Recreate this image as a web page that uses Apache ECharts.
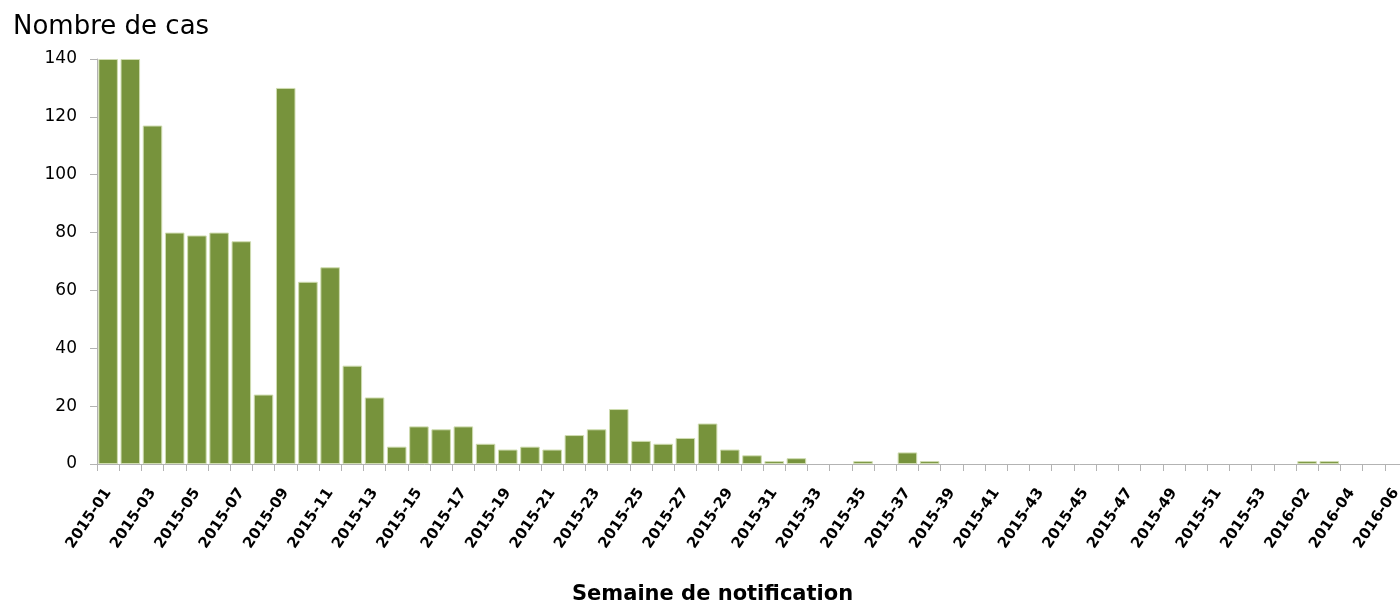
<!DOCTYPE html>
<html>
<head>
<meta charset="utf-8">
<script src="https://cdn.jsdelivr.net/npm/echarts@6/dist/echarts.min.js"></script>
<style>
html,body{margin:0;padding:0;background:#fff;overflow:hidden;width:1400px;height:603px;}
#chart{width:1407px;height:603px;}
</style>
</head>
<body>
<div id="chart"></div>
<script>
const weeks2015 = ["2015-01","2015-02","2015-03","2015-04","2015-05","2015-06","2015-07","2015-08","2015-09","2015-10",
"2015-11","2015-12","2015-13","2015-14","2015-15","2015-16","2015-17","2015-18","2015-19","2015-20",
"2015-21","2015-22","2015-23","2015-24","2015-25","2015-26","2015-27","2015-28","2015-29","2015-30",
"2015-31","2015-32","2015-33","2015-34","2015-35","2015-36","2015-37","2015-38","2015-39","2015-40",
"2015-41","2015-42","2015-43","2015-44","2015-45","2015-46","2015-47","2015-48","2015-49","2015-50",
"2015-51","2015-52","2015-53"];
const weeks2016 = ["2016-01","2016-02","2016-03","2016-04","2016-05","2016-06"];
const categories = weeks2015.concat(weeks2016);
const cases2015 = [140,140,117,80,79,80,77,24,130,63,
68,34,23,6,13,12,13,7,5,6,
5,10,12,19,8,7,9,14,5,3,
1,2,0,0,1,0,4,1,0,0,
0,0,0,0,0,0,0,0,0,0,
0,0,0];
const cases2016 = [0,1,1,0,0,0];
const cases = cases2015.concat(cases2016);
const yTicks = {min:0, max:140, interval:20};
const yTitle = "Nombre de cas";
const xTitle = "Semaine de notification";

const font = "'DejaVu Sans', Verdana, sans-serif";
const barData = cases.map(v => v === 0 ? {value:v, itemStyle:{borderWidth:0}} : v);
const chart = echarts.init(document.getElementById('chart'), null, {renderer:'canvas'});
chart.setOption({
  animation:false,
  backgroundColor:'#fff',
  title:{
    text:yTitle, left:8, top:9,
    textStyle:{fontFamily:font, fontSize:26, fontWeight:'normal', color:'#000'}
  },
  grid:{left:97, right:0, top:59, bottom:139, containLabel:false},
  xAxis:{
    type:'category', data:categories,
    axisLine:{lineStyle:{color:'#b3b3b3', width:1}},
    axisTick:{show:true, alignWithLabel:false, length:7, interval:0, lineStyle:{color:'#b3b3b3'}},
    axisLabel:{interval:1, rotate:56, margin:26, fontFamily:font, fontSize:15, fontWeight:'bold', color:'#000'},
    splitLine:{show:false}
  },
  yAxis:{
    type:'value', min:yTicks.min, max:yTicks.max, interval:yTicks.interval,
    axisLine:{show:true, lineStyle:{color:'#b3b3b3', width:1}},
    axisTick:{show:true, length:7, lineStyle:{color:'#b3b3b3'}},
    axisLabel:{margin:20, fontFamily:font, fontSize:17, color:'#000'},
    splitLine:{show:false}
  },
  graphic:[{
    type:'text', left:572, top:584,
    style:{text:xTitle, fontFamily:font, fontSize:21, fontWeight:'bold', fill:'#000'}
  }],
  series:[{
    type:'bar', data:barData, barCategoryGap:'12%',
    itemStyle:{color:'#77933C', borderColor:'#cfdcb0', borderWidth:1},
    clip:true
  }]
});
</script>
</body>
</html>
